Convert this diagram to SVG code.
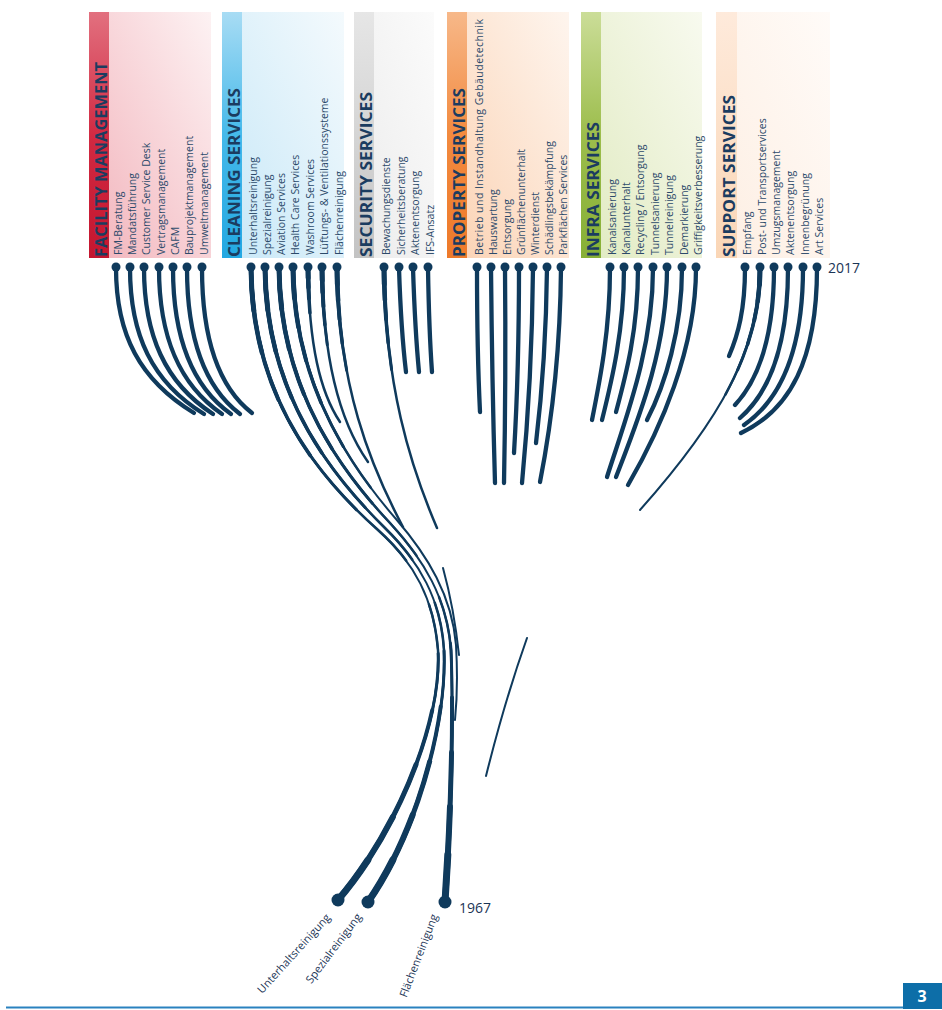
<svg xmlns="http://www.w3.org/2000/svg" xmlns:xlink="http://www.w3.org/1999/xlink" width="942" height="1010" viewBox="0 0 942 1010">
<style>
.title{font-family:"Open Sans","Liberation Sans",sans-serif;font-weight:700;font-size:16px;fill:#1b3c60}
.item{font-family:"Open Sans","Liberation Sans",sans-serif;font-size:10.5px;fill:#2c4a6a}
.year{font-family:"Open Sans","Liberation Sans",sans-serif;font-size:14px;fill:#1b3556}
.root{font-family:"Open Sans","Liberation Sans",sans-serif;font-size:11px;fill:#1b3556}
.ln{fill:none;stroke:#0f3a5c;stroke-linecap:round;stroke-width:4.3}
.thin{fill:none;stroke:#0f3a5c;stroke-linecap:round;stroke-width:2}
.tp{fill:none;stroke:#0f3a5c;stroke-linecap:round}
.w2{stroke-width:2}
.w25{stroke-width:2.5}
.t25{stroke-width:2.5;stroke-dasharray:48 200}
.t3{stroke-width:3;stroke-dasharray:38 200}
.t35{stroke-width:3.5;stroke-dasharray:28 200}
.t4{stroke-width:4;stroke-dasharray:19 200}
.t45{stroke-width:4.5;stroke-dasharray:12 200}
.t5{stroke-width:5;stroke-dasharray:6 200}
.b25{stroke-width:2.5;stroke-dasharray:45 55;stroke-dashoffset:45}
.b3{stroke-width:3;stroke-dasharray:38 62;stroke-dashoffset:38}
.b4{stroke-width:4;stroke-dasharray:30 70;stroke-dashoffset:30}
.b5{stroke-width:5;stroke-dasharray:22 78;stroke-dashoffset:22}
.b6{stroke-width:6;stroke-dasharray:14 86;stroke-dashoffset:14}
.b7{stroke-width:7;stroke-dasharray:7 93;stroke-dashoffset:7}
.pin{fill:#0f3a5c}
</style>
<defs>
<linearGradient id="gFM" x1="0" y1="1" x2="1" y2="0"><stop offset="0" stop-color="#f2b3bb"/><stop offset="1" stop-color="#fdf2f3"/></linearGradient>
<linearGradient id="sFM" x1="0" y1="0" x2="0" y2="1"><stop offset="0" stop-color="#e2707f"/><stop offset="0.5" stop-color="#d12a42"/><stop offset="1" stop-color="#c4162f"/></linearGradient>
<linearGradient id="gCL" x1="0" y1="1" x2="1" y2="0"><stop offset="0" stop-color="#c6e7f7"/><stop offset="1" stop-color="#f4fafd"/></linearGradient>
<linearGradient id="sCL" x1="0" y1="0" x2="0" y2="1"><stop offset="0" stop-color="#a8dcf4"/><stop offset="0.5" stop-color="#45b9ea"/><stop offset="1" stop-color="#23a8e2"/></linearGradient>
<linearGradient id="gSE" x1="0" y1="1" x2="1" y2="0"><stop offset="0" stop-color="#ebebeb"/><stop offset="1" stop-color="#fbfbfb"/></linearGradient>
<linearGradient id="sSE" x1="0" y1="0" x2="0" y2="1"><stop offset="0" stop-color="#e6e6e6"/><stop offset="1" stop-color="#c3c3c3"/></linearGradient>
<linearGradient id="gPR" x1="0" y1="1" x2="1" y2="0"><stop offset="0" stop-color="#fbd2b3"/><stop offset="1" stop-color="#fef5ee"/></linearGradient>
<linearGradient id="sPR" x1="0" y1="0" x2="0" y2="1"><stop offset="0" stop-color="#f7b889"/><stop offset="0.5" stop-color="#f28a3f"/><stop offset="1" stop-color="#ee7a2a"/></linearGradient>
<linearGradient id="gIN" x1="0" y1="1" x2="1" y2="0"><stop offset="0" stop-color="#e0eac0"/><stop offset="1" stop-color="#f8faef"/></linearGradient>
<linearGradient id="sIN" x1="0" y1="0" x2="0" y2="1"><stop offset="0" stop-color="#cbdd98"/><stop offset="0.5" stop-color="#9cbd4c"/><stop offset="1" stop-color="#87b036"/></linearGradient>
<linearGradient id="gSU" x1="0" y1="1" x2="1" y2="0"><stop offset="0" stop-color="#fdeee2"/><stop offset="1" stop-color="#fffbf8"/></linearGradient>
<linearGradient id="sSU" x1="0" y1="0" x2="0" y2="1"><stop offset="0" stop-color="#feeadb"/><stop offset="1" stop-color="#fad6b6"/></linearGradient>
<path id="c1" pathLength="100" d="M251,268 C252,385 305,465 378,530 C415,563 434,600 438,650 C442,720 398,830 338,900"/>
<path id="c2" pathLength="100" d="M265,268 C266,380 316,460 384,527 C420,562 441,600 444,650 C447,720 418,830 368,902"/>
<path id="c3" pathLength="100" d="M279,268 C280,375 326,455 390,523 C424,560 447,598 451,650 C454,720 450,830 445,902"/>
<path id="c4" pathLength="100" d="M293,268 C294,370 336,450 396,519 C428,556 452,596 456,645 C458,680 457,700 455,720"/>
<path id="c5" pathLength="100" d="M308,268 C309,345 320,392 340,422"/>
<path id="c6" pathLength="100" d="M322,268 C323,365 342,425 368,462"/>
<path id="c7" pathLength="100" d="M337,268 C338,385 370,465 403,527"/>
<path id="s1" pathLength="100" d="M384,268 C385,385 410,465 437,528"/>
<path id="u2" pathLength="100" d="M760,268 C760,350 720,420 640,510"/>
</defs>

<rect x="0" y="0" width="942" height="1010" fill="#ffffff"/>

<g id="facility-management">
<rect x="89" y="12" width="122" height="246" fill="url(#gFM)"/>
<rect x="89" y="12" width="20" height="246" fill="url(#sFM)"/>
<text class="title" transform="translate(107,257) rotate(-90)" textLength="195" lengthAdjust="spacingAndGlyphs">FACILITY MANAGEMENT</text>
<text class="item" transform="translate(122,255) rotate(-90)">FM-Beratung</text>
<text class="item" transform="translate(136,255) rotate(-90)">Mandatsführung</text>
<text class="item" transform="translate(150,255) rotate(-90)">Customer Service Desk</text>
<text class="item" transform="translate(165,255) rotate(-90)">Vertragsmanagement</text>
<text class="item" transform="translate(179,255) rotate(-90)">CAFM</text>
<text class="item" transform="translate(193,255) rotate(-90)">Bauprojektmanagement</text>
<text class="item" transform="translate(208,255) rotate(-90)">Umweltmanagement</text>
</g>

<g id="cleaning-services">
<rect x="222" y="12" width="122" height="246" fill="url(#gCL)"/>
<rect x="222" y="12" width="20" height="246" fill="url(#sCL)"/>
<text class="title" transform="translate(240,257) rotate(-90)" textLength="169" lengthAdjust="spacingAndGlyphs">CLEANING SERVICES</text>
<text class="item" transform="translate(257,255) rotate(-90)">Unterhaltsreinigung</text>
<text class="item" transform="translate(271,255) rotate(-90)">Spezialreinigung</text>
<text class="item" transform="translate(285,255) rotate(-90)">Aviation Services</text>
<text class="item" transform="translate(299,255) rotate(-90)">Health Care Services</text>
<text class="item" transform="translate(314,255) rotate(-90)">Washroom Services</text>
<text class="item" transform="translate(328,255) rotate(-90)">Lüftungs- &amp; Ventilationssysteme</text>
<text class="item" transform="translate(343,255) rotate(-90)">Flächenreinigung</text>
</g>

<g id="security-services">
<rect x="354" y="12" width="80" height="246" fill="url(#gSE)"/>
<rect x="354" y="12" width="20" height="246" fill="url(#sSE)"/>
<text class="title" transform="translate(372,257) rotate(-90)" textLength="165" lengthAdjust="spacingAndGlyphs">SECURITY SERVICES</text>
<text class="item" transform="translate(390,255) rotate(-90)">Bewachungsdienste</text>
<text class="item" transform="translate(405,255) rotate(-90)">Sicherheitsberatung</text>
<text class="item" transform="translate(419,255) rotate(-90)">Aktenentsorgung</text>
<text class="item" transform="translate(434,255) rotate(-90)">IFS-Ansatz</text>
</g>

<g id="property-services">
<rect x="447" y="12" width="122" height="246" fill="url(#gPR)"/>
<rect x="447" y="12" width="20" height="246" fill="url(#sPR)"/>
<text class="title" transform="translate(465,257) rotate(-90)" textLength="169" lengthAdjust="spacingAndGlyphs">PROPERTY SERVICES</text>
<text class="item" transform="translate(483,255) rotate(-90)" textLength="236" lengthAdjust="spacing">Betrieb und Instandhaltung Gebäudetechnik</text>
<text class="item" transform="translate(497,255) rotate(-90)">Hauswartung</text>
<text class="item" transform="translate(511,255) rotate(-90)">Entsorgung</text>
<text class="item" transform="translate(525,255) rotate(-90)">Grünflächenunterhalt</text>
<text class="item" transform="translate(539,255) rotate(-90)">Winterdienst</text>
<text class="item" transform="translate(553,255) rotate(-90)">Schädlingsbekämpfung</text>
<text class="item" transform="translate(567,255) rotate(-90)">Parkflächen Services</text>
</g>

<g id="infra-services">
<rect x="581" y="12" width="121" height="246" fill="url(#gIN)"/>
<rect x="581" y="12" width="20" height="246" fill="url(#sIN)"/>
<text class="title" transform="translate(599,257) rotate(-90)" textLength="135" lengthAdjust="spacingAndGlyphs">INFRA SERVICES</text>
<text class="item" transform="translate(616,255) rotate(-90)">Kanalsanierung</text>
<text class="item" transform="translate(630,255) rotate(-90)">Kanalunterhalt</text>
<text class="item" transform="translate(644,255) rotate(-90)">Recycling / Entsorgung</text>
<text class="item" transform="translate(659,255) rotate(-90)">Tunnelsanierung</text>
<text class="item" transform="translate(673,255) rotate(-90)">Tunnelreinigung</text>
<text class="item" transform="translate(688,255) rotate(-90)">Demarkierung</text>
<text class="item" transform="translate(702,255) rotate(-90)">Griffigkeitsverbesserung</text>
</g>

<g id="support-services">
<rect x="716" y="12" width="114" height="246" fill="url(#gSU)"/>
<rect x="716" y="12" width="21" height="246" fill="url(#sSU)"/>
<text class="title" transform="translate(735,257) rotate(-90)" textLength="162" lengthAdjust="spacingAndGlyphs">SUPPORT SERVICES</text>
<text class="item" transform="translate(751,255) rotate(-90)">Empfang</text>
<text class="item" transform="translate(766,255) rotate(-90)">Post- und Transportservices</text>
<text class="item" transform="translate(780,255) rotate(-90)">Umzugsmanagement</text>
<text class="item" transform="translate(794,255) rotate(-90)">Aktenentsorgung</text>
<text class="item" transform="translate(809,255) rotate(-90)">Innenbegrünung</text>
<text class="item" transform="translate(823,255) rotate(-90)">Art Services</text>
</g>

<g id="connectors">
<!-- facility -->
<path class="ln" d="M116,268 C116,335 140,380 194,413"/>
<path class="ln" d="M130,268 C130,335 152,382 204,414"/>
<path class="ln" d="M144,268 C144,335 165,383 213,414"/>
<path class="ln" d="M159,268 C159,335 178,384 222,414"/>
<path class="ln" d="M173,268 C173,335 190,385 231,414"/>
<path class="ln" d="M187,268 C187,335 203,386 240,414"/>
<path class="ln" d="M202,268 C202,335 217,386 252,413"/>
<!-- cleaning long -->
<use href="#c1" class="tp w2"/><use href="#c1" class="tp t25"/><use href="#c1" class="tp t3"/><use href="#c1" class="tp t35"/><use href="#c1" class="tp t4"/><use href="#c1" class="tp t45"/><use href="#c1" class="tp t5"/>
<use href="#c1" class="tp b25"/><use href="#c1" class="tp b3"/><use href="#c1" class="tp b4"/><use href="#c1" class="tp b5"/><use href="#c1" class="tp b6"/><use href="#c1" class="tp b7"/>
<use href="#c2" class="tp w2"/><use href="#c2" class="tp t25"/><use href="#c2" class="tp t3"/><use href="#c2" class="tp t35"/><use href="#c2" class="tp t4"/><use href="#c2" class="tp t45"/><use href="#c2" class="tp t5"/>
<use href="#c2" class="tp b25"/><use href="#c2" class="tp b3"/><use href="#c2" class="tp b4"/><use href="#c2" class="tp b5"/><use href="#c2" class="tp b6"/><use href="#c2" class="tp b7"/>
<use href="#c3" class="tp w2"/><use href="#c3" class="tp t25"/><use href="#c3" class="tp t3"/><use href="#c3" class="tp t35"/><use href="#c3" class="tp t4"/><use href="#c3" class="tp t45"/><use href="#c3" class="tp t5"/>
<use href="#c3" class="tp b25"/><use href="#c3" class="tp b3"/><use href="#c3" class="tp b4"/><use href="#c3" class="tp b5"/><use href="#c3" class="tp b6"/><use href="#c3" class="tp b7"/>
<use href="#c4" class="tp w2"/><use href="#c4" class="tp t25"/><use href="#c4" class="tp t3"/><use href="#c4" class="tp t35"/><use href="#c4" class="tp t4"/><use href="#c4" class="tp t45"/><use href="#c4" class="tp t5"/>
<!-- cleaning medium -->
<use href="#c5" class="tp w25"/><use href="#c5" class="tp t35"/><use href="#c5" class="tp t4"/><use href="#c5" class="tp t45"/><use href="#c5" class="tp t5"/>
<use href="#c6" class="tp w25"/><use href="#c6" class="tp t3"/><use href="#c6" class="tp t35"/><use href="#c6" class="tp t4"/><use href="#c6" class="tp t45"/><use href="#c6" class="tp t5"/>
<use href="#c7" class="tp w25"/><use href="#c7" class="tp t3"/><use href="#c7" class="tp t35"/><use href="#c7" class="tp t4"/><use href="#c7" class="tp t45"/><use href="#c7" class="tp t5"/>
<!-- security -->
<use href="#s1" class="tp w25"/><use href="#s1" class="tp t3"/><use href="#s1" class="tp t35"/><use href="#s1" class="tp t4"/><use href="#s1" class="tp t45"/><use href="#s1" class="tp t5"/>
<path class="ln" d="M399,268 Q401,330 406,372"/>
<path class="ln" d="M413,268 Q415,330 419,372"/>
<path class="ln" d="M428,268 Q429,330 432,372"/>
<path class="thin" d="M443,568 Q454,608 459,655"/>
<!-- property -->
<path class="ln" d="M477,268 Q477,350 480,412"/>
<path class="ln" d="M491,268 Q492,380 495,483"/>
<path class="ln" d="M505,268 Q506,380 504,483"/>
<path class="ln" d="M519,268 Q519,370 514,453"/>
<path class="ln" d="M533,268 Q532,380 522,483"/>
<path class="ln" d="M547,268 Q546,360 536,443"/>
<path class="ln" d="M561,268 Q560,380 540,482"/>
<!-- infra -->
<path class="ln" d="M610,268 C610,330 600,380 592,420"/>
<path class="ln" d="M624,268 C624,330 612,380 602,420"/>
<path class="ln" d="M638,268 C638,330 626,375 616,412"/>
<path class="ln" d="M653,268 C653,350 625,420 607,477"/>
<path class="ln" d="M667,268 C667,350 638,420 616,477"/>
<path class="ln" d="M682,268 C682,330 665,385 647,420"/>
<path class="ln" d="M696,268 C696,350 660,430 628,485"/>
<!-- support -->
<path class="ln" d="M745,268 C745,310 738,335 729,356"/>
<use href="#u2" class="tp w2"/><use href="#u2" class="tp t25"/><use href="#u2" class="tp t3"/><use href="#u2" class="tp t35"/><use href="#u2" class="tp t4"/><use href="#u2" class="tp t45"/><use href="#u2" class="tp t5"/>
<path class="ln" d="M774,268 C774,340 758,380 735,405"/>
<path class="ln" d="M788,268 C788,345 770,392 740,418"/>
<path class="ln" d="M803,268 C803,350 780,400 744,425"/>
<path class="ln" d="M817,268 C817,360 790,410 741,433"/>
<path class="thin" d="M527,638 Q505,700 486,776"/>
<!-- pins top -->
<g class="pin">
<circle cx="116" cy="267" r="4.5"/><circle cx="130" cy="267" r="4.5"/><circle cx="144" cy="267" r="4.5"/><circle cx="159" cy="267" r="4.5"/><circle cx="173" cy="267" r="4.5"/><circle cx="187" cy="267" r="4.5"/><circle cx="202" cy="267" r="4.5"/>
<circle cx="251" cy="267" r="4.5"/><circle cx="265" cy="267" r="4.5"/><circle cx="279" cy="267" r="4.5"/><circle cx="293" cy="267" r="4.5"/><circle cx="308" cy="267" r="4.5"/><circle cx="322" cy="267" r="4.5"/><circle cx="337" cy="267" r="4.5"/>
<circle cx="384" cy="267" r="4.5"/><circle cx="399" cy="267" r="4.5"/><circle cx="413" cy="267" r="4.5"/><circle cx="428" cy="267" r="4.5"/>
<circle cx="477" cy="267" r="4.5"/><circle cx="491" cy="267" r="4.5"/><circle cx="505" cy="267" r="4.5"/><circle cx="519" cy="267" r="4.5"/><circle cx="533" cy="267" r="4.5"/><circle cx="547" cy="267" r="4.5"/><circle cx="561" cy="267" r="4.5"/>
<circle cx="610" cy="267" r="4.5"/><circle cx="624" cy="267" r="4.5"/><circle cx="638" cy="267" r="4.5"/><circle cx="653" cy="267" r="4.5"/><circle cx="667" cy="267" r="4.5"/><circle cx="682" cy="267" r="4.5"/><circle cx="696" cy="267" r="4.5"/>
<circle cx="745" cy="267" r="4.5"/><circle cx="760" cy="267" r="4.5"/><circle cx="774" cy="267" r="4.5"/><circle cx="788" cy="267" r="4.5"/><circle cx="803" cy="267" r="4.5"/><circle cx="817" cy="267" r="4.5"/>
<!-- pins bottom -->
<circle cx="338" cy="900" r="6.5"/><circle cx="368" cy="902" r="6.5"/><circle cx="445" cy="902" r="6.5"/>
</g>
</g>

<g id="labels">
<text class="year" x="828" y="273">2017</text>
<text class="year" x="459" y="913">1967</text>
<text class="root" text-anchor="end" transform="translate(331,918) rotate(-48)">Unterhaltsreinigung</text>
<text class="root" text-anchor="end" transform="translate(362,917) rotate(-53)">Spezialreinigung</text>
<text class="root" text-anchor="end" transform="translate(438,916) rotate(-69)">Flächenreinigung</text>
</g>

<g id="footer">
<line x1="6" y1="1007.5" x2="903" y2="1007.5" stroke="#2a82bf" stroke-width="2"/>
<rect x="903" y="983" width="39" height="26" fill="#0d6ea8"/>
<text x="922" y="1002" text-anchor="middle" font-family="Open Sans, Liberation Sans, sans-serif" font-weight="700" font-size="16" fill="#ffffff">3</text>
</g>
</svg>
